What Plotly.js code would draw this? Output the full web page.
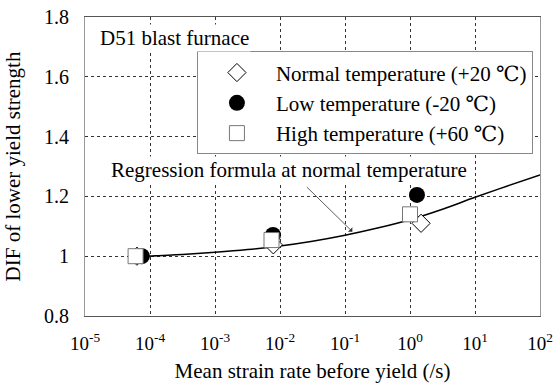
<!DOCTYPE html>
<html>
<head>
<meta charset="utf-8">
<script src="https://cdn.plot.ly/plotly-3.0.1.min.js"></script>
<style>html,body{margin:0;padding:0;background:#fff;}#chart{width:557px;height:386px;}</style>
</head>
<body>
<div id="chart"></div>
<script>
// Data
var normalX = [6.3e-5, 7.9e-3, 1.48];
var normalY = [1.0, 1.038, 1.11];
var lowX = [7.5e-5, 7.8e-3, 1.28];
var lowY = [1.0, 1.071, 1.205];
var highX = [6.0e-5, 7.4e-3, 1.0];
var highY = [1.0, 1.054, 1.14];
// Regression curve at normal temperature
var regX = [9e-5, 3.16e-4, 1e-3, 3.16e-3, 1e-2, 3.16e-2, 1e-1, 3.16e-1, 1, 3.16, 10, 31.6, 100];
var regY = [1.0, 1.006, 1.013, 1.022, 1.034, 1.05, 1.07, 1.094, 1.122, 1.157, 1.197, 1.235, 1.272];
var xTickVals = [1e-5, 1e-4, 1e-3, 1e-2, 1e-1, 1, 10, 100];
var xTickText = ['10<sup>-5</sup>', '10<sup>-4</sup>', '10<sup>-3</sup>', '10<sup>-2</sup>', '10<sup>-1</sup>', '10<sup>0</sup>', '10<sup>1</sup>', '10<sup>2</sup>'];
var yTickVals = [0.8, 1, 1.2, 1.4, 1.6, 1.8];
var yTickText = ['0.8', '1', '1.2', '1.4', '1.6', '1.8'];
var seriesNames = ['Normal temperature (+20 ℃)', 'Low temperature (-20 ℃)', 'High temperature (+60 ℃)'];

var font = '"Liberation Serif", "DejaVu Serif", serif';

var traces = [
  {x: regX, y: regY, mode: 'lines', type: 'scatter', line: {color: '#000', width: 1.5, shape: 'spline'}, showlegend: false, hoverinfo: 'skip'},
  {x: normalX, y: normalY, mode: 'markers', type: 'scatter', name: seriesNames[0],
   marker: {symbol: 'diamond', size: 14, color: '#fff', line: {color: '#000', width: 1}}},
  {x: lowX, y: lowY, mode: 'markers', type: 'scatter', name: seriesNames[1],
   marker: {symbol: 'circle', size: 16, color: '#000', line: {color: '#000', width: 0}}},
  {x: highX, y: highY, mode: 'markers', type: 'scatter', name: seriesNames[2],
   marker: {symbol: 'square', size: 15, color: '#fff', line: {color: '#777', width: 1}}}
];

var layout = {
  width: 557, height: 386,
  margin: {l: 85, r: 17, t: 17, b: 70},
  paper_bgcolor: '#fff', plot_bgcolor: '#fff',
  font: {family: font, color: '#000', size: 18},
  showlegend: true,
  legend: {x: 0.246, y: 0.885, xanchor: 'left', yanchor: 'top',
    bgcolor: '#fff', bordercolor: '#888', borderwidth: 1,
    font: {family: font, size: 21, color: '#000'}, tracegroupgap: 0, itemwidth: 68},
  xaxis: {
    type: 'log', range: [-5, 2],
    tickvals: xTickVals, ticktext: xTickText,
    showgrid: true, gridcolor: '#333', griddash: 'dot', gridwidth: 1,
    showline: true, linecolor: '#555', linewidth: 1, mirror: true,
    ticks: '', ticklabelstandoff: 10,
    zeroline: false,
    tickfont: {family: font, size: 19},
    title: {text: 'Mean strain rate before yield (/s)', font: {family: font, size: 21}, standoff: 10}
  },
  yaxis: {
    range: [0.8, 1.8],
    tickvals: yTickVals, ticktext: yTickText,
    showgrid: true, gridcolor: '#333', griddash: 'dot', gridwidth: 1,
    showline: true, linecolor: '#999', linewidth: 1, mirror: true,
    ticks: '', ticklabelstandoff: 11,
    zeroline: false,
    tickfont: {family: font, size: 20},
    title: {text: 'DIF of lower yield strength', font: {family: font, size: 21}, standoff: 17}
  },
  annotations: [
    {xref: 'paper', yref: 'paper', x: 0.029, y: 0.93, xanchor: 'left', yanchor: 'middle',
     text: 'D51 blast furnace', showarrow: false, bgcolor: '#fff',
     font: {family: font, size: 21, color: '#000'}},
    {xref: 'paper', yref: 'paper', x: 0.449, y: 0.487, xanchor: 'center', yanchor: 'middle',
     text: 'Regression formula at normal temperature', showarrow: false, bgcolor: '#fff',
     font: {family: font, size: 21, color: '#000'}},
    {x: Math.log10(0.13), y: 1.082, xref: 'x', yref: 'y', text: '', showarrow: true,
     ax: -47, ay: -46, arrowhead: 1, arrowsize: 1.3, arrowwidth: 0.8, arrowcolor: '#333'}
  ]
};

Plotly.newPlot('chart', traces, layout, {displayModeBar: false, staticPlot: true});
</script>
</body>
</html>
